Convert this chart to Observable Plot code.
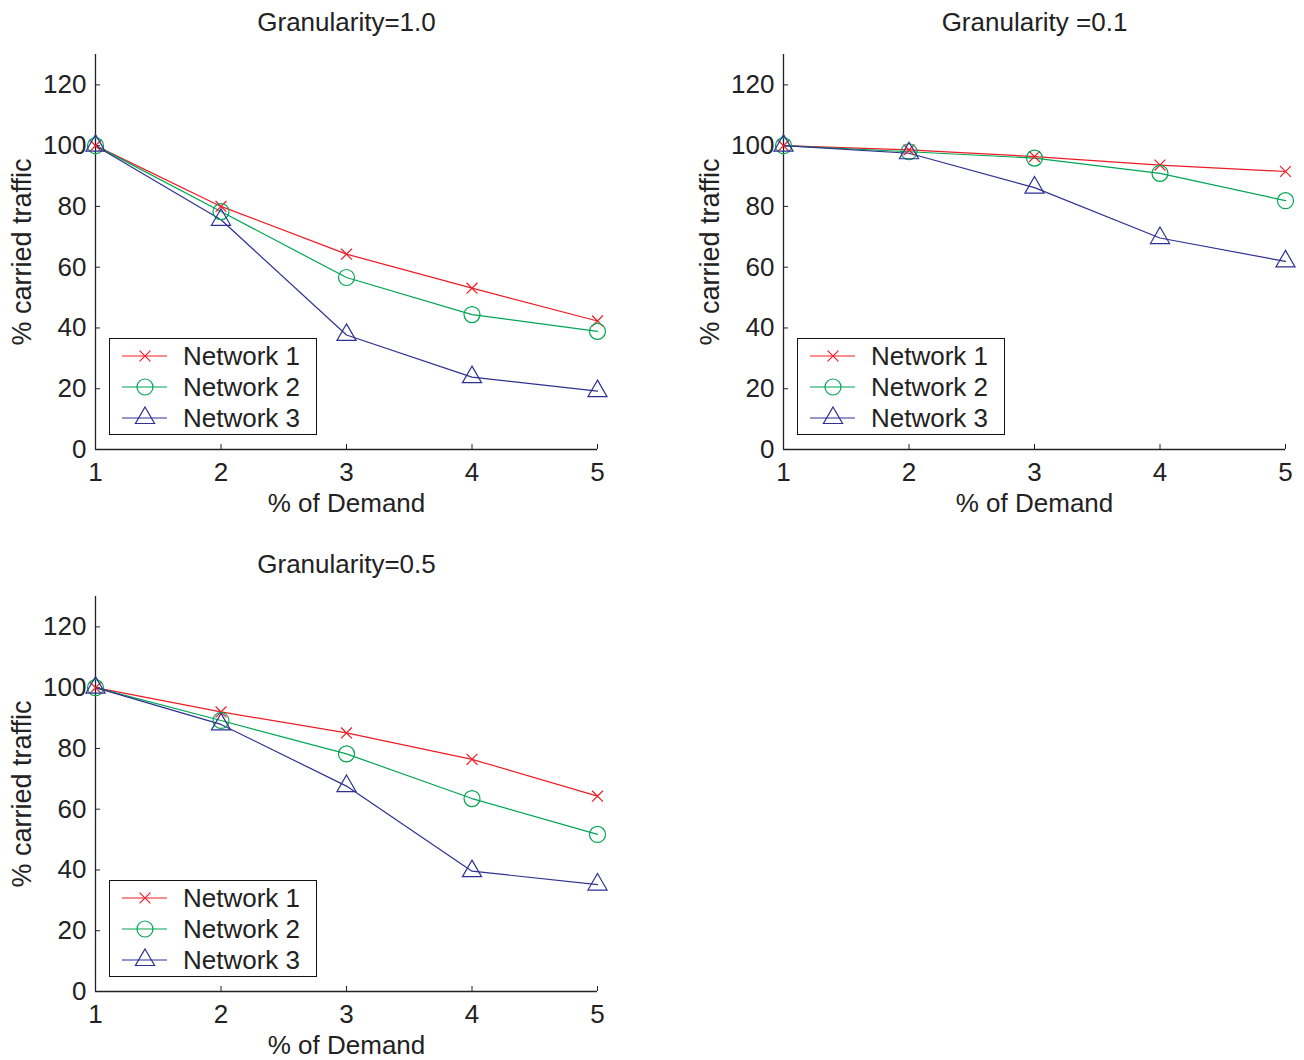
<!DOCTYPE html>
<html><head><meta charset="utf-8">
<script src="https://cdn.jsdelivr.net/npm/d3@7"></script>
<script src="https://cdn.jsdelivr.net/npm/@observablehq/plot@0.6"></script>
<style>
body{margin:0;background:#fff;}
#root{position:relative;width:1304px;height:1060px;overflow:hidden;font-family:"Liberation Sans",Arial,sans-serif;color:#222;}
.panel{position:absolute;}
.legend{position:absolute;left:109px;top:338px;width:208px;height:97px;box-sizing:border-box;border:1.6px solid #111;background:#fff;}
.legend .row{position:absolute;left:0;width:100%;height:30px;}
.legend svg{position:absolute;left:0;top:0;}
.legend span{position:absolute;left:73px;top:0;line-height:30px;font-size:26px;white-space:nowrap;}
</style></head><body><div id="root"></div>
<script>
// ---- data ----
const demand = [1, 2, 3, 4, 5];
const yTicks = [0, 20, 40, 60, 80, 100, 120];
const seriesNames = ["Network 1", "Network 2", "Network 3"];
const panelTitles = ["Granularity=1.0", "Granularity =0.1", "Granularity=0.5"];

const g10Network1 = [100, 80.0, 64.3, 53.1, 42.3];
const g10Network2 = [100, 78.3, 56.6, 44.4, 38.9];
const g10Network3 = [100, 75.6, 37.7, 23.8, 19.2];

const g01Network1 = [100, 98.6, 96.4, 93.6, 91.5];
const g01Network2 = [100, 98.0, 95.9, 90.9, 81.9];
const g01Network3 = [100, 97.5, 86.2, 69.6, 61.9];

const g05Network1 = [100, 92.0, 85.1, 76.4, 64.3];
const g05Network2 = [100, 89.2, 78.2, 63.5, 51.7];
const g05Network3 = [100, 87.9, 67.6, 39.6, 35.2];

// ---- styles ----
const colors = ["#ed1c24", "#00a651", "#2e3192"];
const symbols = ["times", "circle", "triangle"];
const radii = [5, 8, 7.1];
const axisColor = "#222";

const panels = [
  {title: panelTitles[0], series: [g10Network1, g10Network2, g10Network3], left: 0, top: 0, width: 620},
  {title: panelTitles[1], series: [g01Network1, g01Network2, g01Network3], left: 688, top: 0, width: 616},
  {title: panelTitles[2], series: [g05Network1, g05Network2, g05Network3], left: 0, top: 542, width: 620}
];

const root = document.getElementById("root");

for (const p of panels) {
  const rows = [];
  p.series.forEach((vals, si) => {
    vals.forEach((v, i) => rows.push({x: demand[i], y: v, s: si}));
  });
  const marks = [
    Plot.ruleY([0], {stroke: axisColor, strokeWidth: 1.3}),
    Plot.ruleX([1], {stroke: axisColor, strokeWidth: 1.3}),
    Plot.axisX({ticks: demand, tickFormat: d3.format("d"), tickSize: -5, tickPadding: 18, stroke: axisColor, fill: axisColor, fontSize: 26, label: null}),
    Plot.axisY({ticks: yTicks, tickFormat: d3.format("d"), tickSize: -5, tickPadding: 14, stroke: axisColor, fill: axisColor, fontSize: 26, label: null}),
    Plot.text(["% of Demand"], {frameAnchor: "bottom", lineAnchor: "middle", textAnchor: "middle", dy: 54, fontSize: 26, fill: axisColor}),
    Plot.text(["% carried traffic"], {frameAnchor: "left", lineAnchor: "middle", textAnchor: "middle", rotate: -90, dx: -73, fontSize: 27, fill: axisColor}),
    Plot.text([p.title], {frameAnchor: "top", lineAnchor: "middle", textAnchor: "middle", dy: -32, fontSize: 26, fill: axisColor})
  ];
  for (let si = 0; si < 3; si++) {
    const d = rows.filter(r => r.s === si);
    marks.push(Plot.line(d, {x: "x", y: "y", stroke: colors[si], strokeWidth: 1.2}));
  }
  for (let si = 0; si < 3; si++) {
    const d = rows.filter(r => r.s === si);
    marks.push(Plot.dot(d, {x: "x", y: "y", stroke: colors[si], symbol: symbols[si], r: radii[si], strokeWidth: 1.2, fill: "none"}));
  }
  const chart = Plot.plot({
    width: p.width,
    height: 520,
    marginLeft: 95,
    marginRight: p.width - 597,
    marginTop: 54,
    marginBottom: 71,
    x: {domain: [1, 5]},
    y: {domain: [0, 130]},
    style: {fontFamily: '"Liberation Sans", Arial, sans-serif', fontSize: "26px", background: "transparent", overflow: "visible"},
    marks
  });
  const wrap = document.createElement("div");
  wrap.className = "panel";
  wrap.style.left = p.left + "px";
  wrap.style.top = p.top + "px";
  wrap.appendChild(chart);

  // legend
  const leg = document.createElement("div");
  leg.className = "legend";
  seriesNames.forEach((name, si) => {
    const row = document.createElement("div");
    row.className = "row";
    row.style.top = (2 + si * 31) + "px";
    const svg = d3.create("svg").attr("width", 70).attr("height", 30);
    svg.append("line").attr("x1", 12).attr("x2", 57).attr("y1", 15).attr("y2", 15)
      .attr("stroke", colors[si]).attr("stroke-width", 1.2);
    const symType = [d3.symbolTimes, d3.symbolCircle, d3.symbolTriangle][si];
    svg.append("path").attr("transform", "translate(35,15)")
      .attr("d", d3.symbol(symType, Math.PI * radii[si] * radii[si])())
      .attr("fill", "none").attr("stroke", colors[si]).attr("stroke-width", 1.2);
    row.appendChild(svg.node());
    const sp = document.createElement("span");
    sp.textContent = name;
    row.appendChild(sp);
    leg.appendChild(row);
  });
  wrap.appendChild(leg);
  root.appendChild(wrap);
}
</script></body></html>
